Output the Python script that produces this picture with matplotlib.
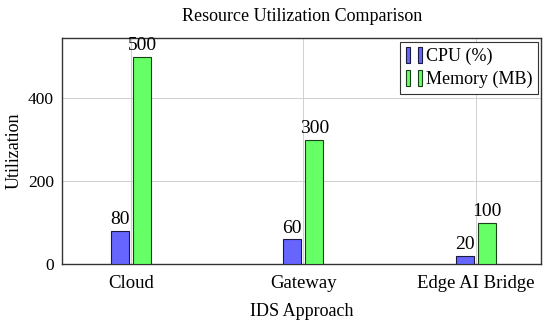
import matplotlib.pyplot as plt
import numpy as np
from matplotlib.patches import Rectangle
from matplotlib.legend_handler import HandlerTuple

approaches = ['Cloud', 'Gateway', 'Edge AI Bridge']
cpu = [80, 60, 20]
memory = [500, 300, 100]

plt.rcParams['font.family'] = ['Liberation Serif', 'DejaVu Serif']

fig = plt.figure(figsize=(5.5, 3.24), dpi=100)
ax = fig.add_axes([0.113, 0.185, 0.871, 0.698])

X = np.arange(len(approaches))
w = 0.105
off = 0.064
b1 = ax.bar(X - off, cpu, width=w, color='#6666ff', edgecolor='#1a1a40', linewidth=0.8, zorder=3)
b2 = ax.bar(X + off, memory, width=w, color='#66ff66', edgecolor='#1a401a', linewidth=0.8, zorder=3)

for bars, vals in [(b1, cpu), (b2, memory)]:
    for r, v in zip(bars, vals):
        ax.text(r.get_x() + r.get_width() / 2, v + 6, str(v), ha='center', va='bottom', fontsize=14)

ax.set_xlim(-0.40, 2.38)
ax.set_ylim(0, 545)
ax.set_xticks(X)
ax.set_xticklabels(approaches, fontsize=13.5)
ax.set_yticks([0, 200, 400])
ax.tick_params(axis='x', length=0, pad=8)
ax.tick_params(axis='y', length=0, pad=6, labelsize=12.5)
ax.grid(True, color='#d0d0d0', linewidth=0.7, zorder=0)
ax.set_axisbelow(True)
for s in ax.spines.values():
    s.set_color('#333333')
    s.set_linewidth(1.0)

ax.set_xlabel('IDS Approach', fontsize=13, labelpad=8)
ax.set_ylabel('Utilization', fontsize=13)
ax.yaxis.set_label_coords(-0.083, 0.5)
ax.set_title('Resource Utilization Comparison', fontsize=13, pad=12)

def pair(fc, ec):
    return (Rectangle((0, 0), 1, 1, fc=fc, ec=ec, lw=0.8),
            Rectangle((0, 0), 1, 1, fc=fc, ec=ec, lw=0.8))

leg = ax.legend([pair('#6666ff', '#1a1a40'), pair('#66ff66', '#1a401a')],
                ['CPU (%)', 'Memory (MB)'],
                handler_map={tuple: HandlerTuple(ndivide=None, pad=0.4)},
                loc='upper right', fontsize=13, fancybox=False, framealpha=1,
                edgecolor='#333333', handlelength=0.9, handleheight=1.0,
                handletextpad=0.2, borderpad=0.3, labelspacing=0.25,
                borderaxespad=0.2)
leg.get_frame().set_linewidth(0.8)

fig.savefig('out.png', dpi=100)
